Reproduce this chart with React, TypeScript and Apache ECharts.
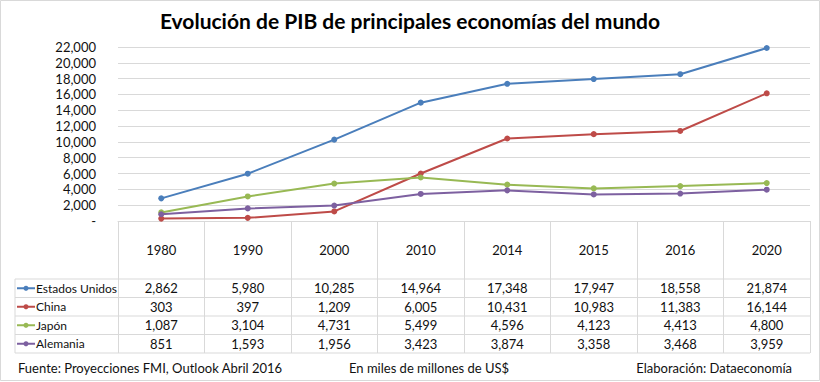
import React, { useEffect, useRef } from "react";
import * as echarts from "echarts";

const years = ["1980", "1990", "2000", "2010", "2014", "2015", "2016", "2020"];
const seriesNames = ["Estados Unidos", "China", "Japón", "Alemania"];
const estadosUnidos = [2862, 5980, 10285, 14964, 17348, 17947, 18558, 21874];
const china = [303, 397, 1209, 6005, 10431, 10983, 11383, 16144];
const japon = [1087, 3104, 4731, 5499, 4596, 4123, 4413, 4800];
const alemania = [851, 1593, 1956, 3423, 3874, 3358, 3468, 3959];
const seriesData = [estadosUnidos, china, japon, alemania];
const seriesColors = ["#4A7EBB", "#BE4B48", "#98B954", "#7D60A0"];
const titleText = "Evolución de PIB de principales economías del mundo";
const sourceText = "Fuente: Proyecciones FMI, Outlook Abril 2016";
const unitText = "En miles de millones de US$";
const authorText = "Elaboración: Dataeconomía";
const yMax = 22000;
const yInterval = 2000;

const FONT = "Lato, 'Open Sans', sans-serif";
const W = 820;
const H = 382;
const GRID_LEFT = 118;
const GRID_RIGHT_X = 810;
const GRID_TOP = 47;
const AXIS_Y = 221;
const TABLE_LEFT = 15;
const ROW_LINES = [279, 297.5, 316, 334.5, 353];
const LINE_COLOR = "#d9d9d9";

const fmt = (v: number) => v.toLocaleString("en-US");

export default function App() {
  const ref = useRef<HTMLDivElement>(null);
  useEffect(() => {
    document.body.style.margin = "0";
    if (!ref.current) return;
    const chart = echarts.init(ref.current, null, { renderer: "svg" });
    chart.setOption({
      animation: false,
      backgroundColor: "#ffffff",
      grid: {
        left: GRID_LEFT,
        right: W - GRID_RIGHT_X,
        top: GRID_TOP,
        bottom: H - AXIS_Y,
        containLabel: false,
      },
      xAxis: {
        type: "category",
        data: years,
        boundaryGap: true,
        axisLine: { show: true, lineStyle: { color: LINE_COLOR, width: 1 } },
        axisTick: {
          show: true,
          length: ROW_LINES[ROW_LINES.length - 1] - AXIS_Y,
          lineStyle: { color: LINE_COLOR, width: 1 },
        },
        axisLabel: {
          margin: 22,
          fontFamily: FONT,
          fontSize: 13,
          color: "#111",
        },
      },
      yAxis: {
        type: "value",
        min: 0,
        max: yMax,
        interval: yInterval,
        axisLine: { show: false },
        axisTick: { show: false },
        splitLine: { lineStyle: { color: LINE_COLOR, width: 1 } },
        axisLabel: {
          margin: 22,
          fontFamily: FONT,
          fontSize: 13,
          color: "#111",
          formatter: (v: number) => (v === 0 ? "-" : fmt(v)),
        },
      },
      series: seriesNames.map((name, i) => ({
        name,
        type: "line",
        data: seriesData[i],
        symbol: "circle",
        symbolSize: 6,
        lineStyle: { color: seriesColors[i], width: 2 },
        itemStyle: { color: seriesColors[i] },
      })),
    });

    const graphics: any[] = [];
    graphics.push({
      type: "rect",
      shape: { x: 0.5, y: 0.5, width: W - 1, height: H - 2 },
      style: { fill: "none", stroke: LINE_COLOR, lineWidth: 1 },
      silent: true,
    });
    graphics.push({
      type: "text",
      x: W / 2,
      y: 20,
      style: {
        text: titleText,
        fontFamily: FONT,
        fontWeight: "bold",
        fontSize: 21,
        fill: "#000",
        align: "center",
        verticalAlign: "middle",
      },
    });
    ROW_LINES.forEach((y) => {
      graphics.push({
        type: "line",
        shape: { x1: TABLE_LEFT, y1: y, x2: GRID_RIGHT_X, y2: y },
        style: { stroke: LINE_COLOR, lineWidth: 1 },
        silent: true,
      });
    });
    graphics.push({
      type: "line",
      shape: { x1: TABLE_LEFT, y1: ROW_LINES[0], x2: TABLE_LEFT, y2: ROW_LINES[ROW_LINES.length - 1] },
      style: { stroke: LINE_COLOR, lineWidth: 1 },
      silent: true,
    });
    seriesNames.forEach((name, i) => {
      const yc = (ROW_LINES[i] + ROW_LINES[i + 1]) / 2;
      graphics.push({
        type: "line",
        shape: { x1: 17, y1: yc, x2: 35, y2: yc },
        style: { stroke: seriesColors[i], lineWidth: 2 },
      });
      graphics.push({
        type: "circle",
        shape: { cx: 26, cy: yc, r: 2.5 },
        style: { fill: seriesColors[i] },
      });
      graphics.push({
        type: "text",
        x: 36,
        y: yc,
        style: {
          text: name,
          fontFamily: FONT,
          fontSize: 12,
          fill: "#111",
          align: "left",
          verticalAlign: "middle",
        },
      });
      seriesData[i].forEach((v, j) => {
        const px = chart.convertToPixel({ xAxisIndex: 0 }, years[j]) as number;
        graphics.push({
          type: "text",
          x: px,
          y: yc,
          style: {
            text: fmt(v),
            fontFamily: FONT,
            fontSize: 13,
            fill: "#111",
            align: "center",
            verticalAlign: "middle",
          },
        });
      });
    });
    const footY = 368;
    graphics.push({
      type: "text",
      x: 18,
      y: footY,
      style: { text: sourceText, fontFamily: FONT, fontSize: 13, fill: "#111", align: "left", verticalAlign: "middle" },
    });
    graphics.push({
      type: "text",
      x: 349,
      y: footY,
      style: { text: unitText, fontFamily: FONT, fontSize: 13, fill: "#111", align: "left", verticalAlign: "middle" },
    });
    graphics.push({
      type: "text",
      x: 792,
      y: footY,
      style: { text: authorText, fontFamily: FONT, fontSize: 13, fill: "#111", align: "right", verticalAlign: "middle" },
    });
    chart.setOption({ graphic: graphics });

    return () => chart.dispose();
  }, []);
  return <div ref={ref} style={{ width: W, height: H }} />;
}
